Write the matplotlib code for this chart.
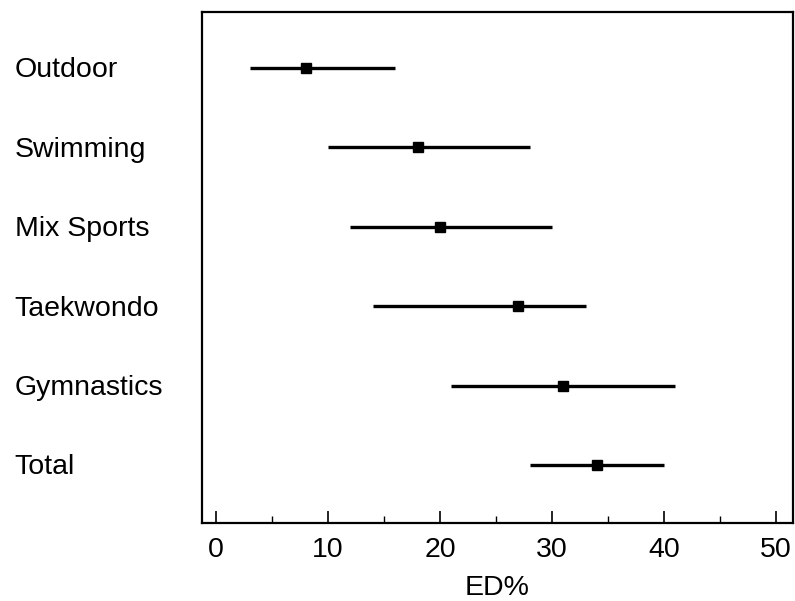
import matplotlib
matplotlib.use("Agg")
import matplotlib.pyplot as plt
from matplotlib.ticker import MultipleLocator

plt.rcParams['font.family'] = ['Liberation Sans', 'DejaVu Sans']

categories = ["Outdoor", "Swimming", "Mix Sports", "Taekwondo", "Gymnastics", "Total"]
ed_mean = [8, 18, 20, 27, 31, 34]
ci_low = [3, 10, 12, 14, 21, 28]
ci_high = [16, 28, 30, 33, 41, 40]

fig = plt.figure(figsize=(7.95, 6.01), dpi=100)
ax = fig.add_axes([0.254, 0.1298, 0.7435, 0.8502])

ypos = list(range(len(categories)))
xerr = [[m - l for m, l in zip(ed_mean, ci_low)], [h - m for m, h in zip(ed_mean, ci_high)]]
ax.errorbar(ed_mean, ypos, xerr=xerr, fmt='s', color='black', ecolor='black',
            elinewidth=2.4, capsize=0, markersize=7.5)

ax.set_xlim(-1.25, 51.5)
ax.set_ylim(5.73, -0.705)
ax.set_yticks([])
for y, c in zip(ypos, categories):
    ax.text(-0.317, y + 0.03, c, transform=ax.get_yaxis_transform(), ha='left', va='center', fontsize=20.5)

ax.xaxis.set_major_locator(MultipleLocator(10))
ax.xaxis.set_minor_locator(MultipleLocator(5))
ax.tick_params(axis='x', which='major', direction='in', length=9, width=1.2, labelsize=20.5, pad=10)
ax.tick_params(axis='x', which='minor', direction='in', length=5, width=1.0)
for s in ax.spines.values():
    s.set_linewidth(1.6)
ax.set_xlabel("ED%", fontsize=20.5, labelpad=9)

fig.savefig("out.png", dpi=100)
